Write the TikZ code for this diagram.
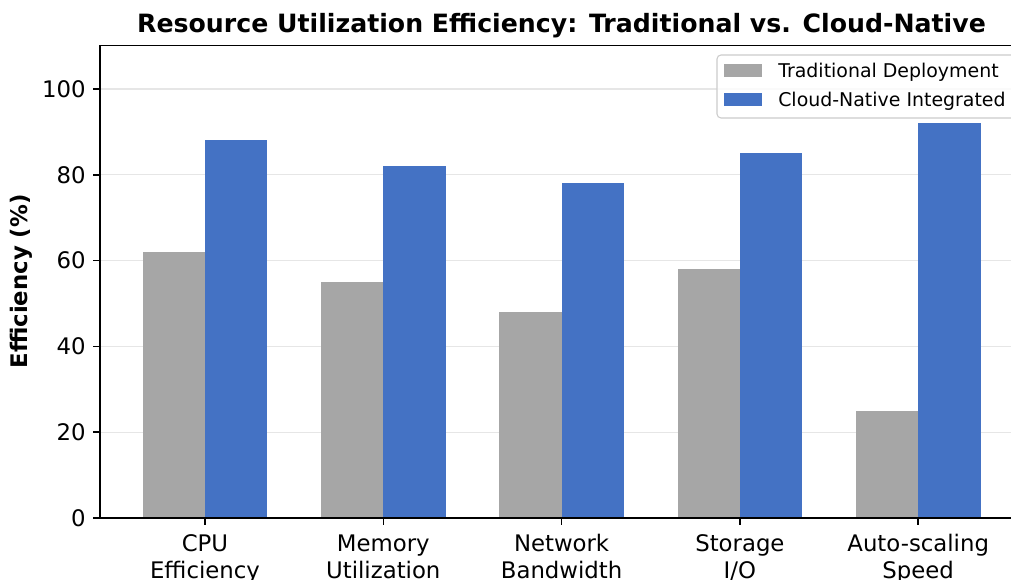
\documentclass[tikz,border=0pt]{standalone}
\usepackage{fontspec}
\setmainfont{DejaVu Sans}
\begin{document}
\begin{tikzpicture}[x=0.75pt,y=-0.75pt,
  tradbar/.style={fill=tradgray,draw=none},
  cloudbar/.style={fill=cloudblue,draw=none},
  gridln/.style={draw=gridcol,line width=0.8pt},
  spine/.style={draw=black,line width=1.1pt},
  ticklab/.style={font=\fontsize{17.1}{20.5}\selectfont,inner sep=0pt},
  leglab/.style={font=\fontsize{14.2}{17}\selectfont,inner sep=0pt,anchor=base west},
]
\definecolor{tradgray}{HTML}{A6A6A6}
\definecolor{cloudblue}{HTML}{4472C4}
\definecolor{gridcol}{HTML}{E6E6E6}
\definecolor{legedge}{HTML}{CCCCCC}
\useasboundingbox (0,0) rectangle (1011,580);
\clip (0,0) rectangle (1011,580);
\fill[white] (0,0) rectangle (1011,580);
% grid
\foreach \v in {20,40,60,80,100}{
  \draw[gridln] (100,{518-4.29*\v}) -- (1025,{518-4.29*\v});
}
% bars
\foreach \i/\t/\c in {0/62/88,1/55/82,2/48/78,3/58/85,4/25/92}{
  \pgfmathsetmacro{\cx}{205+178.3*\i}
  \path[tradbar] ({\cx-62.4},518) rectangle (\cx,{518-4.29*\t});
  \path[cloudbar] (\cx,518) rectangle ({\cx+62.4},{518-4.29*\c});
  \draw[spine] (\cx,518) -- (\cx,525);
}
% spines
\draw[spine] (1025,45.5) -- (100,45.5) -- (100,518) -- (1025,518);
% y ticks
\foreach \v in {0,20,40,60,80,100}{
  \draw[spine] (93,{518-4.29*\v}) -- (100,{518-4.29*\v});
  \node[ticklab,anchor=east] (yt\v) at (86,{518-4.29*\v}) {\v};
}
% x tick labels
\node[ticklab,anchor=base] (xa0) at (205,551.6) {CPU};
\node[ticklab,anchor=base] (xb0) at (205,579) {Efficiency};
\node[ticklab,anchor=base] (xa1) at (383.3,551.6) {Memory};
\node[ticklab,anchor=base] (xb1) at (383.3,579) {Utilization};
\node[ticklab,anchor=base] (xa2) at (561.6,551.6) {Network};
\node[ticklab,anchor=base] (xb2) at (561.6,579) {Bandwidth};
\node[ticklab,anchor=base] (xa3) at (739.9,551.6) {Storage};
\node[ticklab,anchor=base] (xb3) at (739.9,579) {I/O};
\node[ticklab,anchor=base] (xa4) at (918.2,551.6) {Auto-scaling};
\node[ticklab,anchor=base] (xb4) at (918.2,579) {Speed};
% axis label
\node[font=\fontsize{17.1}{20.5}\selectfont\bfseries,rotate=90,inner sep=0pt] (ylab) at (21,281.5) {Efficiency (\%)};
% title
\node[font=\fontsize{18.9}{22.7}\selectfont\bfseries,inner sep=0pt,anchor=base] (title) at (561.5,33) {Resource Utilization Efficiency: Traditional vs. Cloud-Native};
% legend
\draw[draw=legedge,fill=white,fill opacity=0.8,line width=0.8pt,rounded corners=3pt] (717,55) rectangle (1030,118);
\path[tradbar] (724,64) rectangle (762,77);
\path[cloudbar] (724,93) rectangle (762,106);
\node[leglab] (leg1) at (778,78) {Traditional Deployment};
\node[leglab] (leg2) at (778,107) {Cloud-Native Integrated};
\end{tikzpicture}
\end{document}
